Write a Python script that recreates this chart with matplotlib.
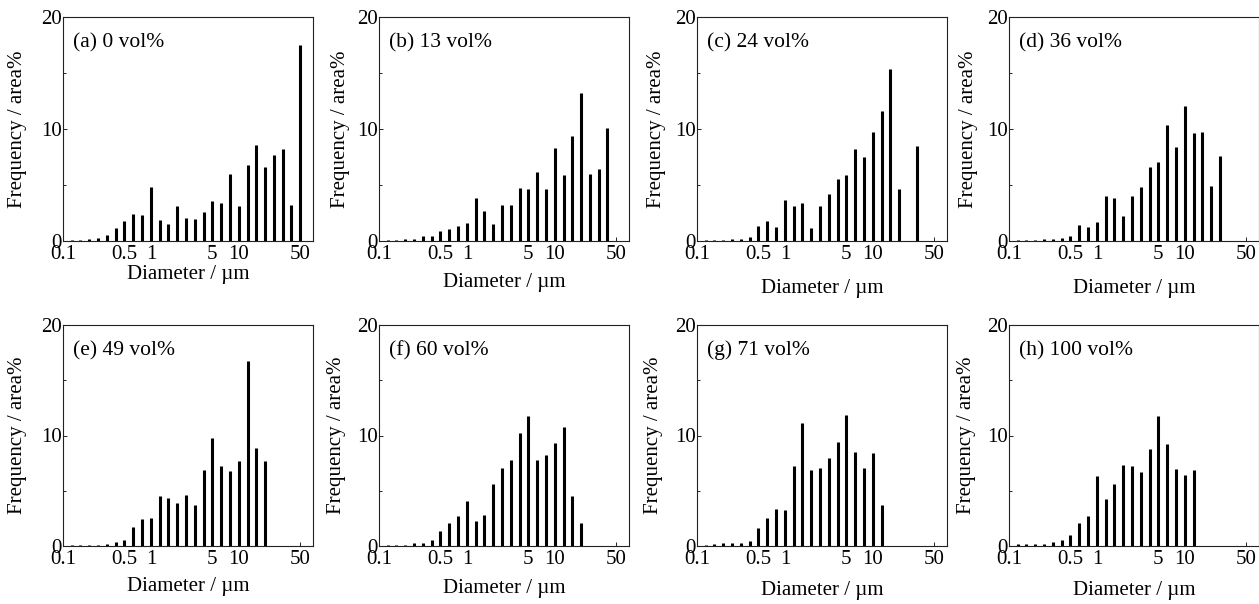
"""
Particle size distributions (area%) for eight vol% compositions,
drawn as thin bars on a log diameter axis.
"""

import matplotlib.pyplot as plt
from matplotlib.ticker import FixedLocator, NullLocator

plt.rcParams["font.family"] = ["Liberation Serif", "DejaVu Serif"]

# bin centres (um), shared by every panel
DIAMETERS = [0.126, 0.158, 0.2, 0.251, 0.316, 0.398, 0.501, 0.631, 0.794,
             1.0, 1.26, 1.58, 2.0, 2.51, 3.16, 3.98, 5.01, 6.31, 7.94,
             10.0, 12.6, 15.8, 20.0, 25.1, 31.6, 39.8, 50.1]

LABELS = ["(a) 0 vol%", "(b) 13 vol%", "(c) 24 vol%", "(d) 36 vol%",
          "(e) 49 vol%", "(f) 60 vol%", "(g) 71 vol%", "(h) 100 vol%"]

freq_a = [0.1, 0.1, 0.15, 0.3, 0.5, 1.2, 1.75, 2.45, 2.35, 4.8,
          1.9, 1.55, 3.15, 2.05, 1.95, 2.55, 3.6, 3.4, 6.0, 3.1,
          6.8, 8.6, 6.6, 7.7, 8.25, 3.2, 17.5]
freq_b = [0.05, 0.1, 0.15, 0.2, 0.45, 0.45, 0.9, 1.1, 1.3, 1.65,
          3.8, 2.7, 1.55, 3.2, 3.2, 4.7, 4.6, 6.2, 4.6, 8.3,
          5.85, 9.4, 13.2, 6.0, 6.4, 10.1]
freq_c = [0.05, 0.05, 0.1, 0.15, 0.2, 0.4, 1.35, 1.8, 1.25, 3.65,
          3.1, 3.35, 1.15, 3.15, 4.2, 5.55, 5.85, 8.2, 7.5, 9.7,
          11.6, 15.35, 4.6, 0.0, 8.45]
freq_d = [0.05, 0.05, 0.1, 0.2, 0.2, 0.25, 0.45, 1.45, 1.25, 1.7,
          4.0, 3.85, 2.2, 4.0, 4.8, 6.6, 7.05, 10.35, 8.4, 12.05,
          9.6, 9.75, 4.95, 7.6]
freq_e = [0.05, 0.05, 0.05, 0.1, 0.15, 0.35, 0.55, 1.7, 2.4, 2.55,
          4.5, 4.3, 3.85, 4.65, 3.75, 6.85, 9.75, 7.2, 6.8, 7.65,
          16.7, 8.85, 7.65]
freq_f = [0.05, 0.05, 0.05, 0.25, 0.25, 0.55, 1.35, 2.05, 2.7, 4.1,
          2.25, 2.85, 5.6, 7.1, 7.8, 10.25, 11.8, 7.8, 8.25, 9.3,
          10.8, 4.55, 2.1]
freq_g = [0.05, 0.2, 0.25, 0.25, 0.3, 0.45, 1.6, 2.55, 3.35, 3.3,
          7.2, 11.1, 6.9, 7.05, 7.95, 9.4, 11.85, 8.55, 7.05, 8.4, 3.7]
freq_h = [0.15, 0.15, 0.15, 0.15, 0.35, 0.55, 1.0, 2.05, 2.75, 6.35,
          4.25, 5.6, 7.3, 7.25, 6.7, 8.75, 11.8, 9.2, 7.0, 6.45, 6.9]

SERIES = [freq_a, freq_b, freq_c, freq_d, freq_e, freq_f, freq_g, freq_h]

XTICKS = [0.1, 0.5, 1, 5, 10, 50]
XTICKLABELS = ["0.1", "0.5", "1", "5", "10", "50"]

# layout, in pixels of the 1259x604 figure
W, H = 1259, 604
COL_LEFT = [63, 379, 697, 1009]
ROW_TOP = [17, 325]
AX_W = 250
AX_H = [224, 221]
# distance of axis-label centres from the spines (panels a..h)
XLABEL_DY = [34, 42, 47, 47, 40, 43, 45, 45]
YLABEL_DX = [45, 38, 40, 41, 45, 42, 43, 43]


def draw_panel(ax, freqs, label, dx, dy, axh):
    x = DIAMETERS[:len(freqs)]
    ax.vlines(x, 0, freqs, colors="black", linewidth=2.2)

    ax.set_xscale("log")
    ax.set_xlim(0.1, 70)
    ax.set_ylim(0, 20)
    ax.xaxis.set_major_locator(FixedLocator(XTICKS))
    ax.set_xticklabels(XTICKLABELS)
    ax.xaxis.set_minor_locator(NullLocator())
    ax.set_yticks([0, 10, 20])
    ax.yaxis.set_minor_locator(FixedLocator([5, 15]))

    ax.tick_params(which="both", direction="in", width=0.6,
                   labelsize=15, colors="black")
    ax.tick_params(which="major", length=3)
    ax.tick_params(which="minor", length=2)
    ax.tick_params(axis="y", pad=1)
    ax.tick_params(axis="x", pad=3)

    for s in ax.spines.values():
        s.set_linewidth(0.8)
        s.set_color("#222222")

    ax.set_xlabel("Diameter / \u00b5m", fontsize=15, va="center")
    ax.set_ylabel("Frequency / area%", fontsize=15, va="center")
    ax.xaxis.set_label_coords(0.5, -dy / axh)
    ax.yaxis.set_label_coords(-dx / AX_W, 0.5)
    ax.text(0.04, 0.885, label, transform=ax.transAxes,
            fontsize=15.5, va="center", ha="left")


def main():
    fig = plt.figure(figsize=(W / 100, H / 100), dpi=100)

    for i, (freqs, label) in enumerate(zip(SERIES, LABELS)):
        r, c = divmod(i, 4)
        left = COL_LEFT[c] / W
        bottom = 1 - (ROW_TOP[r] + AX_H[r]) / H
        ax = fig.add_axes([left, bottom, AX_W / W, AX_H[r] / H])
        draw_panel(ax, freqs, label, YLABEL_DX[i], XLABEL_DY[i], AX_H[r])

    fig.savefig("out.png", dpi=100)
    plt.close(fig)


if __name__ == "__main__":
    main()
